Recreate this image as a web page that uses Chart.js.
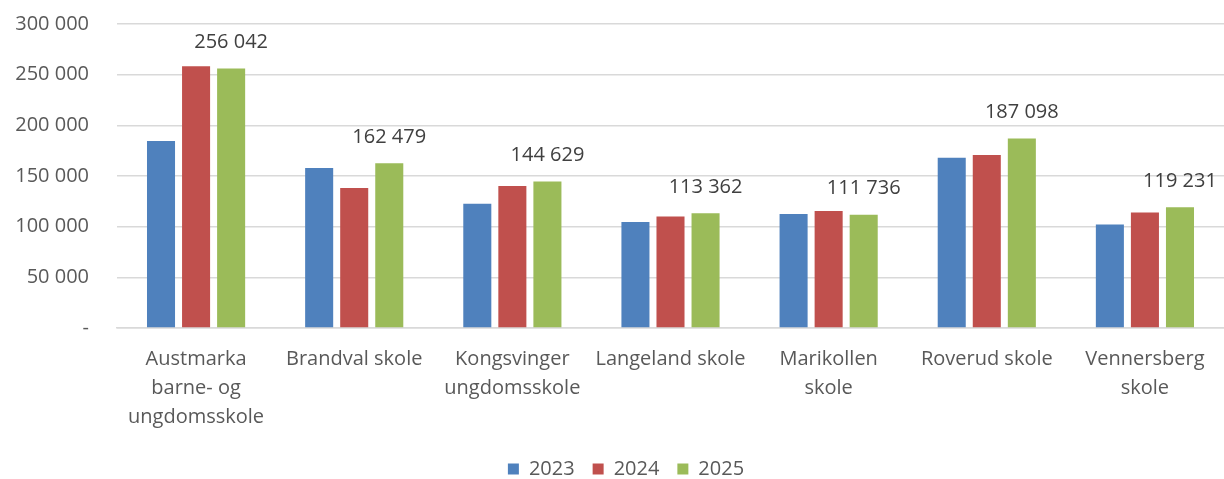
<!DOCTYPE html>
<html>
<head>
<meta charset="utf-8">
<script src="https://cdn.jsdelivr.net/npm/chart.js@4"></script>
<style>
  html, body { margin: 0; padding: 0; background: #fff; }
  #wrap { width: 1224px; height: 479px; position: relative; }
</style>
</head>
<body>
<div id="wrap"><canvas id="skoleChart"></canvas></div>
<script>
// Skoler og verdier per år
const skoler = [
  ['Austmarka', 'barne- og', 'ungdomsskole'],
  'Brandval skole',
  ['Kongsvinger', 'ungdomsskole'],
  'Langeland skole',
  ['Marikollen', 'skole'],
  'Roverud skole',
  ['Vennersberg', 'skole'],
];
const aar = ['2023', '2024', '2025'];
const verdier2023 = [184500, 157900, 122700, 104600, 112500, 168100, 102200];
const verdier2024 = [258300, 138200, 140100, 110100, 115500, 170700, 114100];
const verdier2025 = [256042, 162479, 144629, 113362, 111736, 187098, 119231];
const farger = ['#4F81BD', '#C0504D', '#9BBB59'];
const yTicks = [0, 50000, 100000, 150000, 200000, 250000, 300000];

const tekstFarge = '#595959';
const fontFamilie = '"Open Sans", Lato, sans-serif';

function formatTall(v) {
  if (v === 0) return '-';
  return String(Math.round(v)).replace(/\B(?=(\d{3})+(?!\d))/g, ' ');
}

// tegner verdien over 2025-stolpene
const verdiEtiketter = {
  id: 'verdiEtiketter',
  afterDatasetsDraw(chart) {
    const ctx = chart.ctx;
    const meta = chart.getDatasetMeta(2);
    ctx.save();
    ctx.font = '20px ' + fontFamilie;
    ctx.fillStyle = '#404040';
    ctx.textAlign = 'center';
    ctx.textBaseline = 'middle';
    meta.data.forEach((bar, i) => {
      ctx.fillText(formatTall(verdier2025[i]), bar.x, bar.y - 26);
    });
    ctx.restore();
  },
};

// flytter legenden litt mot høyre
const legendeForskyvning = {
  id: 'legendeForskyvning',
  afterLayout(chart) {
    if (chart.legend) {
      chart.legend.left += 14;
      chart.legend.right += 14;
    }
  },
};

const seriesData = [verdier2023, verdier2024, verdier2025];

new Chart(document.getElementById('skoleChart'), {
  type: 'bar',
  data: {
    labels: skoler,
    datasets: aar.map((a, i) => ({
      label: a,
      data: seriesData[i],
      backgroundColor: farger[i],
      categoryPercentage: 0.665,
      barPercentage: 0.8,
    })),
  },
  options: {
    responsive: true,
    maintainAspectRatio: false,
    animation: false,
    layout: {
      padding: { top: 0, right: 0, bottom: -10, left: 0 },
    },
    plugins: {
      tooltip: { enabled: false },
      legend: {
        position: 'bottom',
        labels: {
          boxWidth: 11,
          boxHeight: 11,
          padding: 18,
          color: tekstFarge,
          font: { family: fontFamilie, size: 20 },
        },
      },
    },
    scales: {
      x: {
        grid: { display: false },
        border: { color: '#d9d9d9', width: 1.5 },
        ticks: {
          color: tekstFarge,
          maxRotation: 0,
          autoSkip: false,
          padding: 9,
          font: { family: fontFamilie, size: 20, lineHeight: 1.45 },
        },
      },
      y: {
        min: 0,
        max: 300000,
        afterBuildTicks(axis) {
          axis.ticks = yTicks.map((v) => ({ value: v }));
        },
        afterFit(axis) {
          axis.width = 117;
          axis.paddingTop = 24;
        },
        grid: { color: '#d9d9d9', lineWidth: 1.5, drawTicks: false },
        border: { display: false },
        ticks: {
          color: tekstFarge,
          padding: 28,
          font: { family: fontFamilie, size: 20 },
          callback: (v) => formatTall(v),
        },
      },
    },
  },
  plugins: [verdiEtiketter, legendeForskyvning],
});
</script>
</body>
</html>
